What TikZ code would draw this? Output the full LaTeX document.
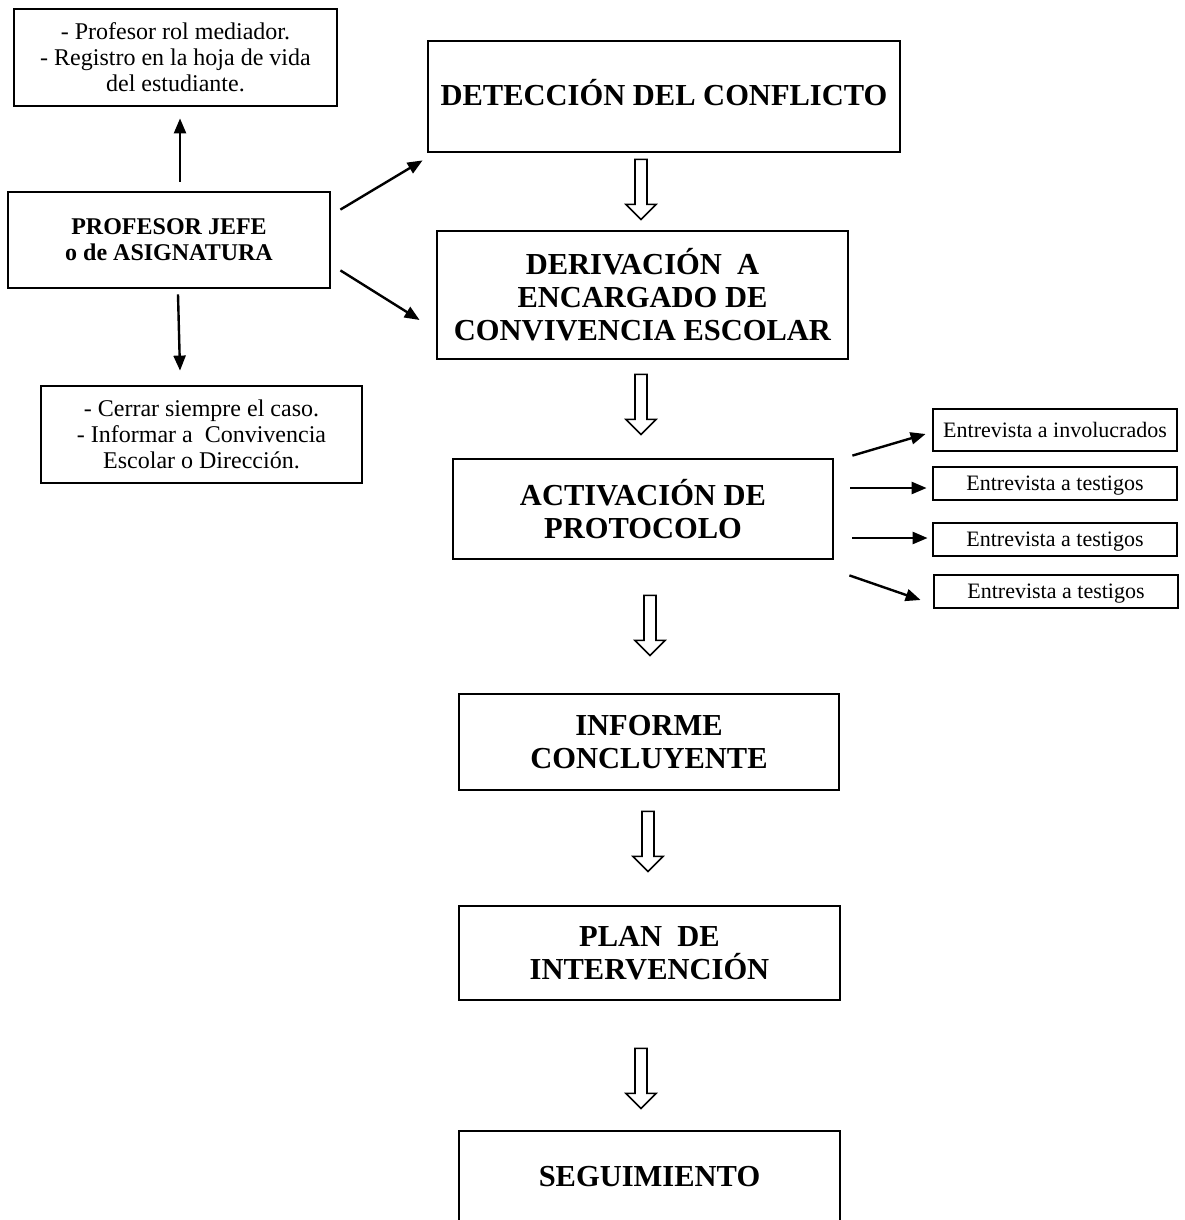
\documentclass[tikz,border=0pt]{standalone}
\usepackage{fontspec}
\setmainfont{Liberation Serif}
\usetikzlibrary{arrows.meta}

\begin{document}
\begin{tikzpicture}[x=1pt, y=-1pt,
    mainbox/.style={draw, line width=2.8pt, inner sep=0pt, align=center,
        font=\fontsize{30.5}{33}\selectfont\bfseries},
    sidebox/.style={draw, line width=2.8pt, inner sep=0pt, align=center,
        font=\fontsize{24}{26}\selectfont},
    smallbox/.style={draw, line width=2.8pt, inner sep=0pt, align=center,
        minimum width=244pt, minimum height=33pt, text depth=0pt,
        font=\fontsize{22}{24}\selectfont},
    conn/.style={line width=2.4pt, -{Triangle[length=15pt,width=12pt]}},
    hollow/.pic={
        \draw[line width=1.6pt, miter limit=20, fill=white]
            (-6,0) -- (6,0) -- (6,45) -- (15,45) -- (0,60) -- (-15,45) -- (-6,45) -- cycle;
    }]

    \useasboundingbox (0,0) rectangle (1184,1220);

    % Main column
    \node[mainbox, minimum width=472pt, minimum height=111pt, text height=19pt] (det) at (664,96.5) {DETECCIÓN DEL CONFLICTO};
    \node[mainbox, minimum width=411pt, minimum height=128pt] (deriv) at (642.5,295) {DERIVACIÓN~ A\\ENCARGADO DE\\CONVIVENCIA ESCOLAR};
    \node[mainbox, minimum width=380pt, minimum height=100pt] (activ) at (643,509) {ACTIVACIÓN DE\\PROTOCOLO};
    \node[mainbox, minimum width=380pt, minimum height=96pt] (inform) at (649,742) {INFORME\\CONCLUYENTE};
    \node[mainbox, minimum width=381pt, minimum height=94pt] (plan) at (649.5,953) {PLAN~ DE\\INTERVENCIÓN};
    \node[mainbox, minimum width=381pt, minimum height=92pt] (seg) at (649.5,1177) {SEGUIMIENTO};

    % Left side
    \node[sidebox, minimum width=323pt, minimum height=97pt] (note1) at (175.5,57.5) {- Profesor rol mediador.\\- Registro en la hoja de vida\\del estudiante.};
    \node[sidebox, minimum width=322pt, minimum height=96pt, font=\fontsize{24}{26}\selectfont\bfseries] (prof) at (169,240) {PROFESOR JEFE\\o de ASIGNATURA};
    \node[sidebox, minimum width=321pt, minimum height=97pt] (close) at (201.5,434.5) {- Cerrar siempre el caso.\\- Informar a~ Convivencia\\Escolar o Dirección.};

    % Right side
    \node[smallbox, minimum height=42pt] (ent1) at (1055,430) {Entrevista a involucrados};
    \node[smallbox] (ent2) at (1055,483.5) {Entrevista a testigos};
    \node[smallbox] (ent3) at (1055,539.5) {Entrevista a testigos};
    \node[smallbox] (ent4) at (1056,591.5) {Entrevista a testigos};

    % Connectors from the teacher box
    \draw[conn] ([shift={(11,-9)}]prof.north) -- ([shift={(4.5,11)}]note1.south);
    \draw[conn] ([shift={(9,5)}]prof.south) -- ([shift={(-21.5,-14)}]close.north);
    \draw[conn] ([shift={(9,19)}]prof.north east) -- ([shift={(-4,7)}]det.south west);
    \draw[conn] ([shift={(9,-19)}]prof.south east) -- ([shift={(-16,25)}]deriv.west);

    % Connectors to the interviews
    \draw[conn] ([shift={(18,-2)}]activ.north east) -- ([shift={(-6,4)}]ent1.west);
    \draw[conn] ([shift={(16,-21)}]activ.east) -- ([shift={(-5,4.5)}]ent2.west);
    \draw[conn] ([shift={(18,29)}]activ.east) -- ([shift={(-4,-1.5)}]ent3.west);
    \draw[conn] ([shift={(15,15)}]activ.south east) -- ([shift={(-12,8.5)}]ent4.west);

    % Hollow arrows down the column
    \pic at ([shift={(-23,6)}]det.south) {hollow};
    \pic at ([shift={(-1.5,14)}]deriv.south) {hollow};
    \pic at ([shift={(7,35)}]activ.south) {hollow};
    \pic at ([shift={(-1,20)}]inform.south) {hollow};
    \pic at ([shift={(-8.5,47)}]plan.south) {hollow};

\end{tikzpicture}
\end{document}
